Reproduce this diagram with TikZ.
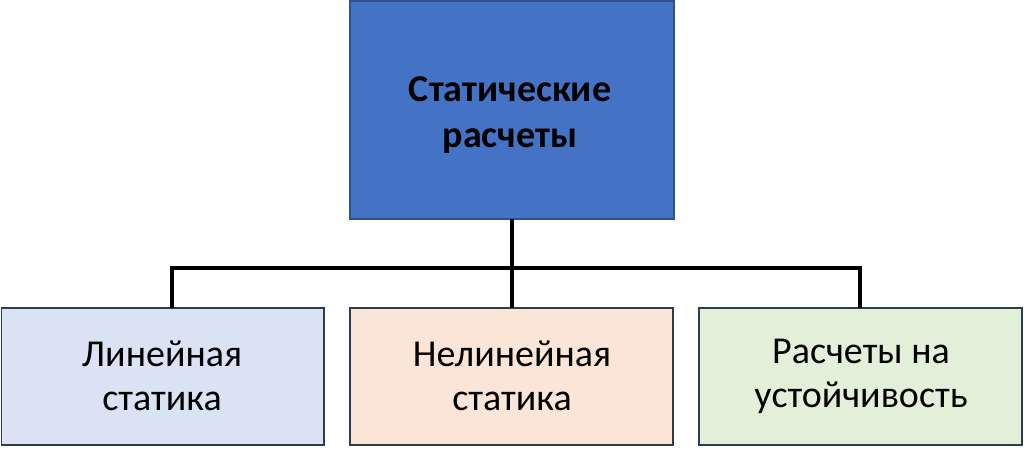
\documentclass[tikz,border=0pt]{standalone}
\usepackage{fontspec}
\setmainfont{Carlito}
\begin{document}
\begin{tikzpicture}[x=1pt,y=-1pt,
  conn/.style={line width=4pt, black},
  lbl/.style={font=\fontsize{38}{44}\selectfont, align=center}]
\useasboundingbox (0,0) rectangle (1024,448);
\definecolor{topfill}{HTML}{4472C4}
\definecolor{topline}{HTML}{2F528F}
\definecolor{bline}{HTML}{2F3B4E}
\definecolor{fA}{HTML}{DAE3F3}
\definecolor{fB}{HTML}{FBE5D6}
\definecolor{fC}{HTML}{E2F0D9}
% top box
\draw[fill=topfill, draw=topline, line width=1.5pt] (350,1) rectangle (674,219);
\node[font=\bfseries\fontsize{38}{46}\selectfont, align=center] (top) at (510,115) {Статические\\расчеты};
\coordinate (topb) at (512,219);
% bottom boxes
\draw[fill=fA, draw=bline, line width=1.5pt] (1.5,308) rectangle (324,445);
\draw[fill=fB, draw=bline, line width=1.5pt] (350,308) rectangle (673,445);
\draw[fill=fC, draw=bline, line width=1.5pt] (699,308) rectangle (1022,445);
\coordinate (la) at (172,308);
\coordinate (lb) at (512,308);
\coordinate (lc) at (860,308);
\node[lbl] (A) at (162,376) {Линейная\\статика};
\node[lbl] (B) at (512,376) {Нелинейная\\статика};
\node[lbl] (C) at (861,376) {Расчеты на\\устойчивость};
% connectors
\coordinate (hl) at (172,268);
\coordinate (hr) at (860,268);
\draw[conn] (topb) -- (lb);
\draw[conn, line join=miter] (la) -- (hl) -- (hr) -- (lc);
\end{tikzpicture}
\end{document}
